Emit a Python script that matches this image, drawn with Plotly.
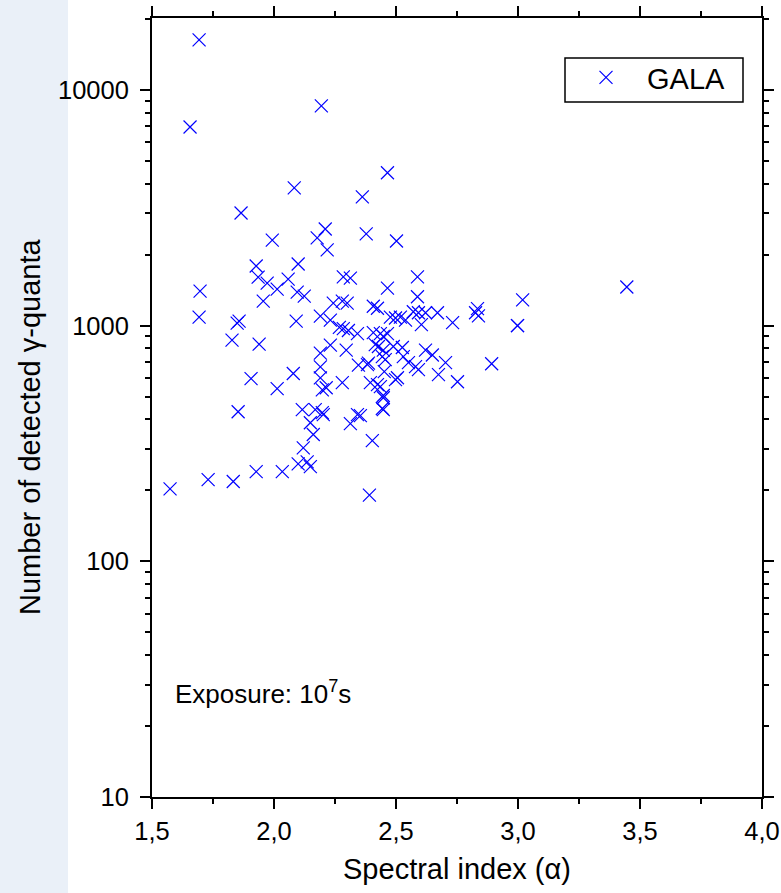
import plotly.graph_objects as go

# Spectral index (alpha) and number of detected gamma quanta
alpha = [
    1.693, 1.656, 2.194, 2.465, 2.083, 2.362, 1.865, 2.210, 2.177, 2.218, 2.378, 2.502, 1.993,
    1.927, 2.099, 1.935, 1.972, 2.058, 2.013, 2.095, 2.124, 1.956, 1.697, 1.693, 2.284, 2.313, 2.465, 2.588, 2.588, 3.019, 3.446,
    1.857, 1.849, 2.091, 1.828, 1.939, 2.190, 2.231, 2.243, 2.280, 2.300, 2.407, 2.424, 2.268, 2.284, 2.305, 2.342, 2.407, 2.436, 2.465,
    2.477, 2.498, 2.518, 2.539, 2.571, 2.592, 2.621, 2.670, 2.604, 2.732, 2.834, 2.826, 2.838, 2.998, 2.998,
    2.231, 2.190, 2.296, 2.346, 2.387, 2.190, 2.190, 2.198, 2.214, 2.280, 2.395, 2.424, 2.436, 2.448, 2.448, 2.452, 2.498, 1.906, 2.013, 2.079,
    1.853, 2.116, 2.169, 2.198, 2.202, 2.149, 2.161, 2.120, 2.313, 2.342, 2.403, 2.099, 2.136, 2.149, 2.034, 1.927, 1.833, 1.730, 1.574, 2.391,
    2.415, 2.489, 2.526, 2.444, 2.456, 2.383, 2.530, 2.551, 2.580, 2.592, 2.621, 2.649, 2.703, 2.674, 2.752, 2.892, 2.506, 2.448, 2.444, 2.354, 2.448, 2.428, 2.448,
]
counts = [
    16300, 6960, 8550, 4450, 3840, 3515, 3005, 2570, 2355, 2095, 2450, 2285, 2305,
    1790, 1825, 1605, 1515, 1575, 1428, 1387, 1334, 1270, 1400, 1086, 1610, 1590, 1443, 1610, 1325, 1285, 1458,
    1045, 1025, 1045, 867, 834, 1097, 1055, 1245, 1270, 1245, 1208, 1185, 982, 971, 953, 925, 933, 925, 925,
    1087, 1077, 1087, 1055, 1145, 1134, 1134, 1134, 1010, 1030, 1180, 1134, 1100, 1000, 1000,
    826, 764, 787, 680, 693, 668, 600, 534, 545, 573, 573, 562, 551, 494, 440, 638, 590, 596, 540, 626,
    431, 440, 440, 427, 419, 387, 345, 303, 384, 419, 325, 259, 264, 252, 240, 240, 218, 222, 203, 191,
    830, 815, 807, 739, 717, 683, 739, 696, 670, 650, 787, 750, 696, 619, 578, 689, 601, 505, 445, 415, 900, 815, 787,
]

x_tickvals = [1.5, 2.0, 2.5, 3.0, 3.5, 4.0]
x_ticktext = ["1,5", "2,0", "2,5", "3,0", "3,5", "4,0"]
y_tickvals = [10, 100, 1000, 10000]
y_ticktext = ["10", "100", "1000", "10000"]

FONT = "Liberation Sans, Arial, sans-serif"

fig = go.Figure()
fig.add_trace(go.Scatter(
    x=alpha, y=counts, mode="markers", name="GALA",
    marker=dict(symbol="x-thin", size=13, color="#0000ff",
                line=dict(width=1.2, color="#0000ff")),
))

L, R, T, B = 152, 19, 18, 96
W, H = 781, 893
pw, ph = W - L - R, H - T - B


def px_x(p):
    return (p - L) / pw


def px_y(p):
    return (H - B - p) / ph


fig.update_layout(
    width=W, height=H,
    margin=dict(l=L, r=R, t=T, b=B, autoexpand=False),
    paper_bgcolor="white", plot_bgcolor="white",
    font=dict(family=FONT, size=25, color="black"),
    showlegend=True,
    legend=dict(
        x=px_x(565), y=px_y(52), xanchor="left", yanchor="top",
        borderwidth=0, bgcolor="rgba(0,0,0,0)",
        font=dict(family=FONT, size=29, color="black"),
        itemwidth=72, tracegroupgap=0,
    ),
    shapes=[
        dict(type="rect", xref="paper", yref="paper", layer="below",
             x0=px_x(0), x1=px_x(68), y0=px_y(H), y1=px_y(0),
             fillcolor="#eaf0f8", line=dict(width=0)),
        dict(type="rect", xref="paper", yref="paper", layer="above",
             x0=px_x(565), x1=px_x(743), y0=px_y(102), y1=px_y(58),
             fillcolor="rgba(0,0,0,0)", line=dict(width=1.5, color="black")),
    ],
    annotations=[
        dict(text="Exposure: 10<sup>7</sup>s", xref="paper", yref="paper",
             x=px_x(173), y=px_y(692), xanchor="left", yanchor="middle",
             showarrow=False, font=dict(family=FONT, size=26, color="black")),
        dict(text="Number of detected γ-quanta", xref="paper", yref="paper",
             x=px_x(30), y=px_y(427), xanchor="center", yanchor="middle",
             textangle=-90, showarrow=False,
             font=dict(family=FONT, size=29, color="black")),
    ],
)

fig.update_xaxes(
    range=[1.5, 4.0], tickvals=x_tickvals, ticktext=x_ticktext,
    showgrid=False, zeroline=False,
    showline=True, linecolor="black", linewidth=2, mirror="ticks",
    ticks="outside", ticklen=10, tickwidth=2, tickcolor="black",
    minor=dict(dtick=0.25, ticks="outside", ticklen=5, tickwidth=2, tickcolor="black", showgrid=False),
    tickfont=dict(family=FONT, size=25.5, color="black"),
    title=dict(text="Spectral index (α)", standoff=15,
               font=dict(family=FONT, size=29, color="black")),
)
fig.update_yaxes(
    type="log", range=[1, 4.305], tickvals=y_tickvals, ticktext=y_ticktext,
    showgrid=False, zeroline=False,
    showline=True, linecolor="black", linewidth=2, mirror="ticks",
    ticks="outside", ticklen=10, tickwidth=2, tickcolor="black",
    ticklabelstandoff=6,
    minor=dict(dtick="D1", ticks="outside", ticklen=5, tickwidth=2, tickcolor="black", showgrid=False),
    tickfont=dict(family=FONT, size=25.5, color="black"),
)

fig.write_html("out.html")
